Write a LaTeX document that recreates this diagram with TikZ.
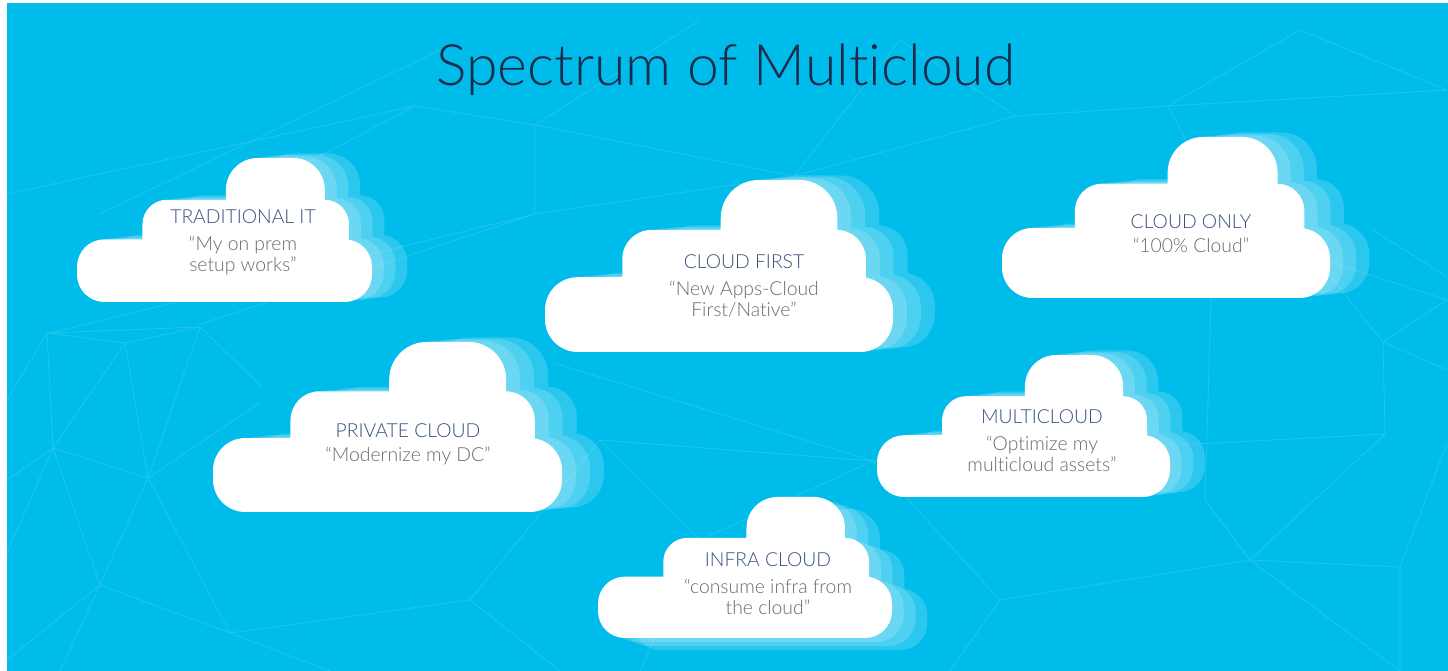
\documentclass[tikz,border=0pt]{standalone}
\usepackage{fontspec}
\setmainfont{Lato}[Ligatures={NoCommon,NoRequired,NoContextual}]
\newfontfamily\lightfont{Lato Light}[Ligatures={NoCommon,NoRequired,NoContextual}]
\usepackage{xcolor}
\usepackage{tikz}
\definecolor{skyblue}{HTML}{00BCEB}
\definecolor{titlenavy}{HTML}{1C2B4C}
\definecolor{headblue}{HTML}{36507A}
\definecolor{quotegray}{HTML}{6A6A6A}

\begin{document}
\begin{tikzpicture}[
  x=0.02cm, y=-0.02cm,
  mesh/.style={white, draw opacity=0.12, line width=0.5pt},
  titletext/.style={anchor=base, inner sep=0pt, text=titlenavy,
                    font=\lightfont\fontsize{32.5}{38}\selectfont},
  cloudtext/.style={anchor=base, align=center, inner sep=0pt, text=quotegray,
                    font=\lightfont\fontsize{11}{12.5}\selectfont},
  pics/cloudshape/.style n args={3}{code={
    \foreach \k/\op in {3/0.17,2/0.17,1/0.17,0/1}
      \fill[white, fill opacity=\op, shift={({\k*0.04*#1},{\k*(#3)})}]
        {[rounded corners={0.19*#2*0.02cm}] (0,0) rectangle (#1,{-0.435*#2})}
        {[rounded corners={0.17*#2*0.02cm}] ({0.222*#1},0) rectangle ({0.922*#1},{-0.71*#2})}
        {[rounded corners={0.22*#2*0.02cm}] ({0.505*#1},0) rectangle ({0.84*#1},{-#2})};
  }}
]
  \useasboundingbox (0,0) rectangle (1448,671);
  \fill[white] (0,0) rectangle (1448,671);
  \fill[skyblue] (7,3) rectangle (1448,671);

  % faint network in the background
  \draw[mesh]
    (7,400) -- (47,333) -- (125,343) -- (200,327) -- (47,333)
    (47,333) -- (53,448) -- (148,478) -- (125,343) -- (53,448)
    (200,327) -- (148,478) -- (260,403)
    (7,480) -- (53,448) -- (100,585) -- (148,478) -- (230,633) -- (100,585) -- (7,660)
    (7,553) -- (53,448)
    (200,327) -- (262,387)
    (230,633) -- (330,671) (230,633) -- (470,600) -- (600,440)
    (470,600) -- (560,671) (100,585) -- (60,671)
    (440,50) -- (100,214) (415,106) -- (7,194) (415,106) -- (250,193)
    (415,106) -- (535,125) -- (535,214) -- (794,176) -- (535,125) -- (700,20)
    (535,214) -- (46,334) (535,214) -- (198,325)
    (794,176) -- (1016,116) -- (1168,106) -- (1300,30) -- (1447,90)
    (1016,116) -- (900,40) -- (794,176) (1168,106) -- (1447,90)
    (1168,106) -- (1233,230) -- (1447,300)
    (554,363) -- (873,461) -- (1385,434) (600,440) -- (873,461) -- (1000,600)
    (1000,600) -- (1250,560) -- (1385,434) -- (1383,342) -- (1447,300)
    (1383,342) -- (1447,370) (1383,342) -- (1317,260) (1373,230) -- (1447,277)
    (1213,233) -- (1205,500) -- (1250,560) -- (1400,567) -- (1447,443)
    (1250,560) -- (1400,671) (1400,567) -- (1400,671) (1000,600) -- (950,671)
    (873,461) -- (700,540) -- (600,440) (700,540) -- (640,671);

  \node[titletext] (title) at (726,86) {Spectrum of Multicloud};

  % clouds: bottom-left corner, width, height, shadow drop
  \pic at (77,302)   {cloudshape={295}{144}{-1.5}};
  \pic at (545,352)  {cloudshape={348}{172}{-1.5}};
  \pic at (1002,298) {cloudshape={328}{161}{-1.5}};
  \pic at (213,512)  {cloudshape={349}{170}{-1.5}};
  \pic at (877,497)  {cloudshape={293}{142}{-1.5}};
  \pic at (598,638)  {cloudshape={294}{141}{4}};

  % anchored on the baseline of the last line
  \node[cloudtext] (trad) at (243,272)
    {{\color{headblue}TRADITIONAL IT}\\[1mm]“My on prem\\setup works”};
  \node[cloudtext] (first) at (744,317)
    {{\color{headblue}CLOUD FIRST}\\[1mm]“New Apps-Cloud\\First/Native”};
  \node[cloudtext] (only) at (1191,253)
    {{\color{headblue}CLOUD ONLY}\\[0.5mm]“100\% Cloud”};
  \node[cloudtext] (private) at (408,462)
    {{\color{headblue}PRIVATE CLOUD}\\[0.5mm]“Modernize my DC”};
  \node[cloudtext] (multi) at (1042,472)
    {{\color{headblue}MULTICLOUD}\\[1mm]“Optimize my\\multicloud assets”};
  \node[cloudtext] (infra) at (768,615)
    {{\color{headblue}INFRA CLOUD}\\[1mm]“consume infra from\\the cloud”};
\end{tikzpicture}
\end{document}
